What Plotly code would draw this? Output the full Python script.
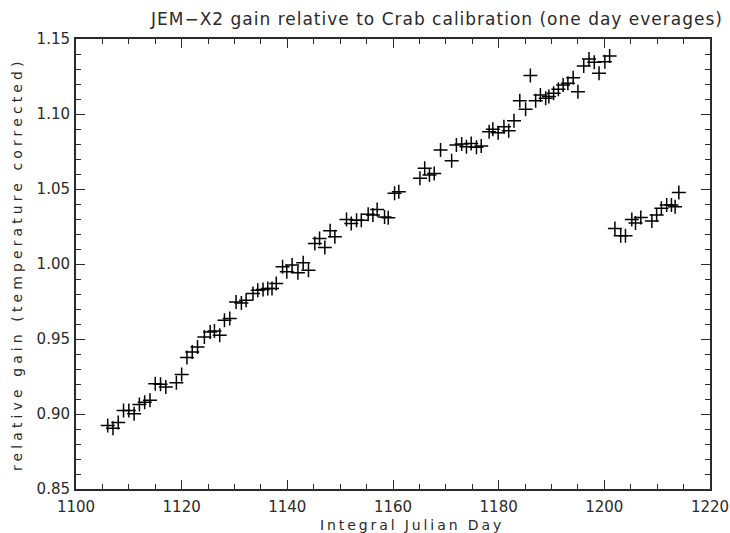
import plotly.graph_objects as go

# One-day average gain of JEM-X2 relative to the Crab calibration
days = [1106, 1107, 1108, 1109, 1110, 1111, 1112, 1113, 1114, 1115, 1116, 1117,
        1119, 1120, 1121, 1122, 1123, 1124.3, 1125.4, 1126.2, 1127.2, 1128.1, 1129.1,
        1130.3, 1131.3, 1132.2, 1133.5, 1134.4, 1135.4, 1136.3, 1137.1, 1137.9,
        1139.1, 1139.9, 1140.9, 1142, 1143, 1144,
        1145.2, 1146.1, 1147.1, 1148.1, 1149, 1151.2, 1152.1, 1153.1, 1154,
        1155.3, 1156.2, 1157, 1158.4, 1159.1, 1160.3, 1161.1,
        1165.1, 1166, 1166.9, 1167.8, 1169, 1171.1, 1172, 1173, 1173.9, 1174.8,
        1175.8, 1176.7, 1178.2, 1178.9, 1179.9, 1181, 1181.9, 1182.9,
        1184, 1185.1, 1186, 1187, 1187.9, 1188.9, 1189.5, 1190.4, 1191.3, 1192.2,
        1193.1, 1194.1, 1195, 1196.1, 1197.1, 1198.1, 1199, 1200.1, 1201,
        1202, 1203.1, 1204, 1205.2, 1205.9, 1206.9, 1209, 1209.9, 1210.8,
        1211.8, 1212.7, 1213.4, 1214.1]
gain = [0.8924, 0.8905, 0.8943, 0.9023, 0.9023, 0.9001, 0.9064, 0.9078, 0.9091,
        0.9202, 0.9198, 0.9180, 0.9208, 0.9264, 0.9376, 0.9413, 0.9446, 0.9513,
        0.9546, 0.9553, 0.9525, 0.9625, 0.9636, 0.9747, 0.9740, 0.9758, 0.9803,
        0.9825, 0.9830, 0.9836, 0.9836, 0.9870,
        0.9981, 0.9948, 0.9993, 0.9941, 1.0008, 0.9958,
        1.0137, 1.0170, 1.0110, 1.0221, 1.0181, 1.0297, 1.0270, 1.0292, 1.0292,
        1.0332, 1.0326, 1.0364, 1.0314, 1.0308, 1.0471, 1.0481,
        1.0571, 1.0638, 1.0593, 1.0604, 1.0760, 1.0688, 1.0793, 1.0800, 1.0782,
        1.0804, 1.0778, 1.0786, 1.0882, 1.0898, 1.0875, 1.0915, 1.0889, 1.0955,
        1.1089, 1.1031, 1.1256, 1.1089, 1.1127, 1.1105, 1.1116, 1.1138, 1.1165,
        1.1194, 1.1205, 1.1242, 1.1149, 1.1320, 1.1367, 1.1345, 1.1272, 1.1349,
        1.1387,
        1.0237, 1.0188, 1.0188, 1.0297, 1.0274, 1.0310, 1.0286, 1.0326, 1.0371,
        1.0393, 1.0393, 1.0381, 1.0477]

x_range = [1100, 1220]
y_range = [0.85, 1.15]

ink = "#2a2a2a"
font = "DejaVu Sans"


def spaced(text, px):
    return f'<span style="letter-spacing:{px}px">{text}</span>'


fig = go.Figure()
fig.add_trace(go.Scatter(
    x=days, y=gain, mode="markers",
    marker=dict(symbol="cross-thin", size=10, line=dict(color="black", width=1.5)),
    showlegend=False,
))
# invisible traces so every frame axis (bottom/left/top/right) gets drawn
for xa, ya in (("x2", "y2"), ("x3", "y3")):
    fig.add_trace(go.Scatter(x=[x_range[0]], y=[y_range[0]], xaxis=xa, yaxis=ya,
                             mode="markers", marker=dict(opacity=0), showlegend=False,
                             hoverinfo="skip"))

tick_style = dict(
    showgrid=False, zeroline=False, showline=True, linecolor=ink, linewidth=1.5,
    ticks="inside", tickcolor=ink, tickwidth=1.3, ticklen=9, showticklabels=False,
)
x_ticks = dict(range=x_range, tickmode="linear", tick0=1100, dtick=20,
               minor=dict(tickmode="linear", tick0=1100, dtick=5, ticks="inside",
                          ticklen=5, tickwidth=1.3, tickcolor=ink, showgrid=False))
y_ticks = dict(range=y_range, tickmode="linear", tick0=0.85, dtick=0.05,
               minor=dict(tickmode="linear", tick0=0.85, dtick=0.01, ticks="inside",
                          ticklen=5, tickwidth=1.3, tickcolor=ink, showgrid=False))

fig.update_layout(
    template="none",
    width=730, height=533,
    margin=dict(l=76, r=20, t=39, b=44),
    paper_bgcolor="white", plot_bgcolor="white",
    font=dict(family=font, color=ink),
    # labelled axes
    xaxis=dict(range=x_range, tickmode="linear", tick0=1100, dtick=20,
               showgrid=False, zeroline=False, showline=False, ticks="",
               ticklabelstandoff=7,
               tickfont=dict(family=font, size=15, color=ink)),
    yaxis=dict(range=y_range, tickmode="linear", tick0=0.85, dtick=0.05, tickformat=".2f",
               showgrid=False, zeroline=False, showline=False, ticks="",
               ticklabelstandoff=5,
               tickfont=dict(family=font, size=15, color=ink)),
    # tick frame on all four sides
    xaxis2=dict(**tick_style, **x_ticks, overlaying="x", side="top", anchor="y2"),
    yaxis2=dict(**tick_style, **y_ticks, overlaying="y", side="right", anchor="x2"),
    xaxis3=dict(**tick_style, **x_ticks, overlaying="x", side="bottom", anchor="y3"),
    yaxis3=dict(**tick_style, **y_ticks, overlaying="y", side="left", anchor="x3"),
    annotations=[
        dict(text=spaced("JEM\u2212X2 gain relative to Crab calibration (one day everages)", 1),
             xref="paper", yref="paper", x=(148 - 76) / 634, y=1.0, yshift=8,
             xanchor="left", yanchor="bottom", showarrow=False,
             font=dict(family=font, size=17, color=ink)),
        dict(text=spaced("Integral Julian Day", 2.9),
             xref="paper", yref="paper", x=(412 - 76) / 634, y=0, yshift=-26,
             xanchor="center", yanchor="top", showarrow=False,
             font=dict(family=font, size=14, color=ink)),
        dict(text=spaced("relative gain (temperature corrected)", 4.1),
             xref="paper", yref="paper", x=0, xshift=-59, y=0.5,
             xanchor="center", yanchor="middle", textangle=-90, showarrow=False,
             font=dict(family=font, size=14, color=ink)),
    ],
)

fig.write_html("out.html")
